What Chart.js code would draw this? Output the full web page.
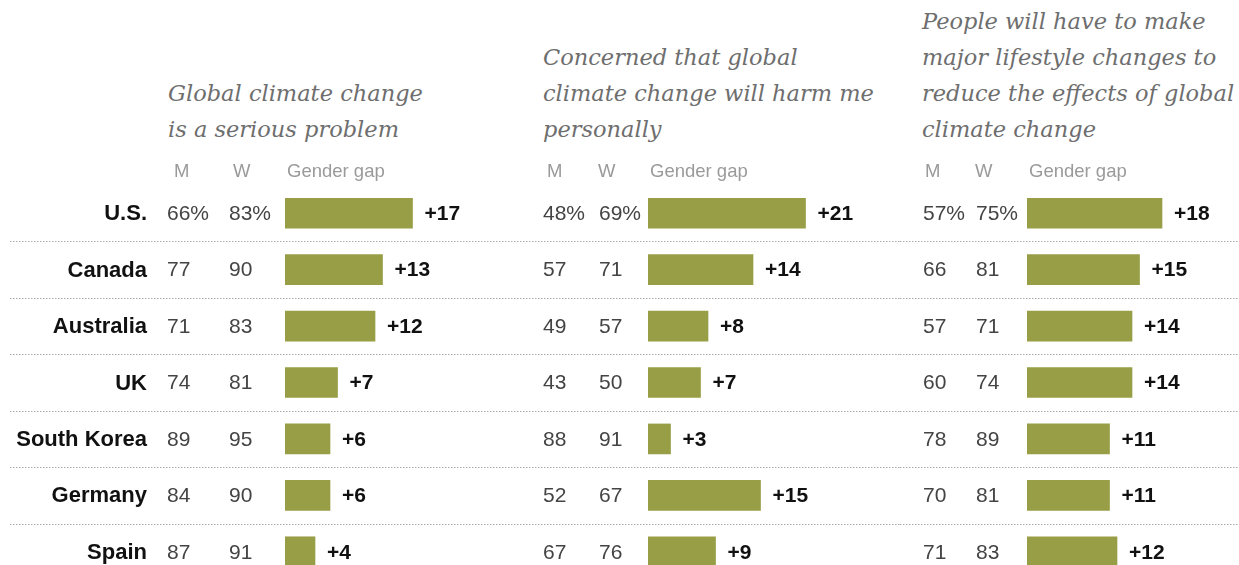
<!DOCTYPE html>
<html>
<head>
<meta charset="utf-8">
<script src="https://cdn.jsdelivr.net/npm/chart.js@4/dist/chart.umd.min.js"></script>
<style>
  html, body { margin: 0; padding: 0; background: #fff; width: 1239px; height: 565px; overflow: hidden; }
  .panel { position: absolute; top: 0; height: 600px; }
  .title {
    position: absolute; bottom: 418px; white-space: nowrap;
    font-family: "DejaVu Serif", serif; font-style: italic; font-size: 22.5px;
    line-height: 36px; color: #6e6e6e;
  }
</style>
</head>
<body>
<div class="title" style="left:168px">Global climate change<br>is a serious problem</div>
<div class="title" style="left:543px">Concerned that global<br>climate change will harm me<br>personally</div>
<div class="title" style="left:922px">People will have to make<br>major lifestyle changes to<br>reduce the effects of global<br>climate change</div>

<div class="panel" style="left:0;width:520px"><canvas id="c1"></canvas></div>
<div class="panel" style="left:520px;width:380px"><canvas id="c2"></canvas></div>
<div class="panel" style="left:900px;width:360px"><canvas id="c3"></canvas></div>

<script>
const countries = ["U.S.", "Canada", "Australia", "UK", "South Korea", "Germany", "Spain"];

const seriousMen   = [66, 77, 71, 74, 89, 84, 87];
const seriousWomen = [83, 90, 83, 81, 95, 90, 91];
const seriousGap   = [17, 13, 12, 7, 6, 6, 4];

const harmMen   = [48, 57, 49, 43, 88, 52, 67];
const harmWomen = [69, 71, 57, 50, 91, 67, 76];
const harmGap   = [21, 14, 8, 7, 3, 15, 9];

const lifeMen   = [57, 66, 57, 60, 78, 70, 71];
const lifeWomen = [75, 81, 71, 74, 89, 81, 83];
const lifeGap   = [18, 15, 14, 14, 11, 11, 12];

const barColor = "#979e45";
const sans = "'Liberation Sans', Arial, sans-serif";

// draws row labels, M / W columns, value labels and dotted separators
const rowText = {
    id: "rowText",
    afterDatasetsDraw(chart, args, opts) {
        const ctx = chart.ctx;
        const y = chart.scales.y;
        const x = chart.scales.x;
        const left = chart.chartArea.left;
        const w = chart.width;

        ctx.save();

        // dotted separators
        ctx.strokeStyle = "#aaaaaa";
        ctx.lineWidth = 1;
        ctx.setLineDash([1.5, 1.5]);
        for (let i = 0; i < countries.length - 1; i++){
            const yy = Math.round((y.getPixelForValue(i) + y.getPixelForValue(i + 1)) / 2) + 0.5;
            ctx.beginPath();
            ctx.moveTo(opts.lineStart, yy);
            ctx.lineTo(w, yy);
            ctx.stroke();
        }
        ctx.setLineDash([]);

        // header
        const hy = y.getPixelForValue(0) - 41;
        ctx.fillStyle = "#9a9a9a";
        ctx.font = `18.5px ${sans}`;
        ctx.textBaseline = "middle";
        ctx.textAlign = "left";
        ctx.fillText("M", left + opts.mHead, hy);
        ctx.fillText("W", left + opts.wHead, hy);
        ctx.fillText("Gender gap", left + 2, hy);

        const data = chart.data.datasets[0].data;
        for (let i = 0; i < countries.length; i++){
            const yy = y.getPixelForValue(i) + 1;
            const pct = i === 0 ? "%" : "";

            if (opts.labels){
                ctx.fillStyle = "#111";
                ctx.font = `bold 22px ${sans}`;
                ctx.textAlign = "right";
                ctx.fillText(countries[i], opts.labelRight, yy);
            }

            ctx.fillStyle = "#444";
            ctx.font = `21px ${sans}`;
            ctx.textAlign = "left";
            ctx.fillText(opts.men[i] + pct, left + opts.mOff, yy);
            ctx.fillText(opts.women[i] + pct, left + opts.wOff, yy);

            ctx.fillStyle = "#111";
            ctx.font = `bold 21px ${sans}`;
            ctx.fillText("+" + data[i], x.getPixelForValue(data[i]) + 12, yy);
        }
        ctx.restore();
    }
};

function makeChart(id, gap, men, women, padLeft, padRight, textOpts){
    return new Chart(document.getElementById(id), {
        type: "bar",
        data: {
            labels: countries,
            datasets: [{
                data: gap,
                backgroundColor: barColor,
                borderWidth: 0,
                barThickness: 30,
            }]
        },
        options: {
            indexAxis: "y",
            responsive: true,
            maintainAspectRatio: false,
            animation: false,
            layout: { padding: { top: 185, bottom: 20, left: padLeft, right: padRight } },
            plugins: {
                legend: { display: false },
                tooltip: { enabled: false },
                rowText: Object.assign({ men: men, women: women }, textOpts)
            },
            scales: {
                x: { min: 0, max: 30, display: false, grid: { display: false } },
                y: { display: false, grid: { display: false } }
            }
        },
        plugins: [rowText]
    });
}

makeChart("c1", seriousGap, seriousMen, seriousWomen, 285, 10,
    { labels: true, labelRight: 147, lineStart: 10, mOff: -118, wOff: -56, mHead: -111, wHead: -52 });
makeChart("c2", harmGap, harmMen, harmWomen, 128, 27,
    { labels: false, lineStart: 0, mOff: -105, wOff: -49, mHead: -101, wHead: -50 });
makeChart("c3", lifeGap, lifeMen, lifeWomen, 127, 8,
    { labels: false, lineStart: 0, mOff: -104, wOff: -51, mHead: -102, wHead: -52 });
</script>
</body>
</html>
